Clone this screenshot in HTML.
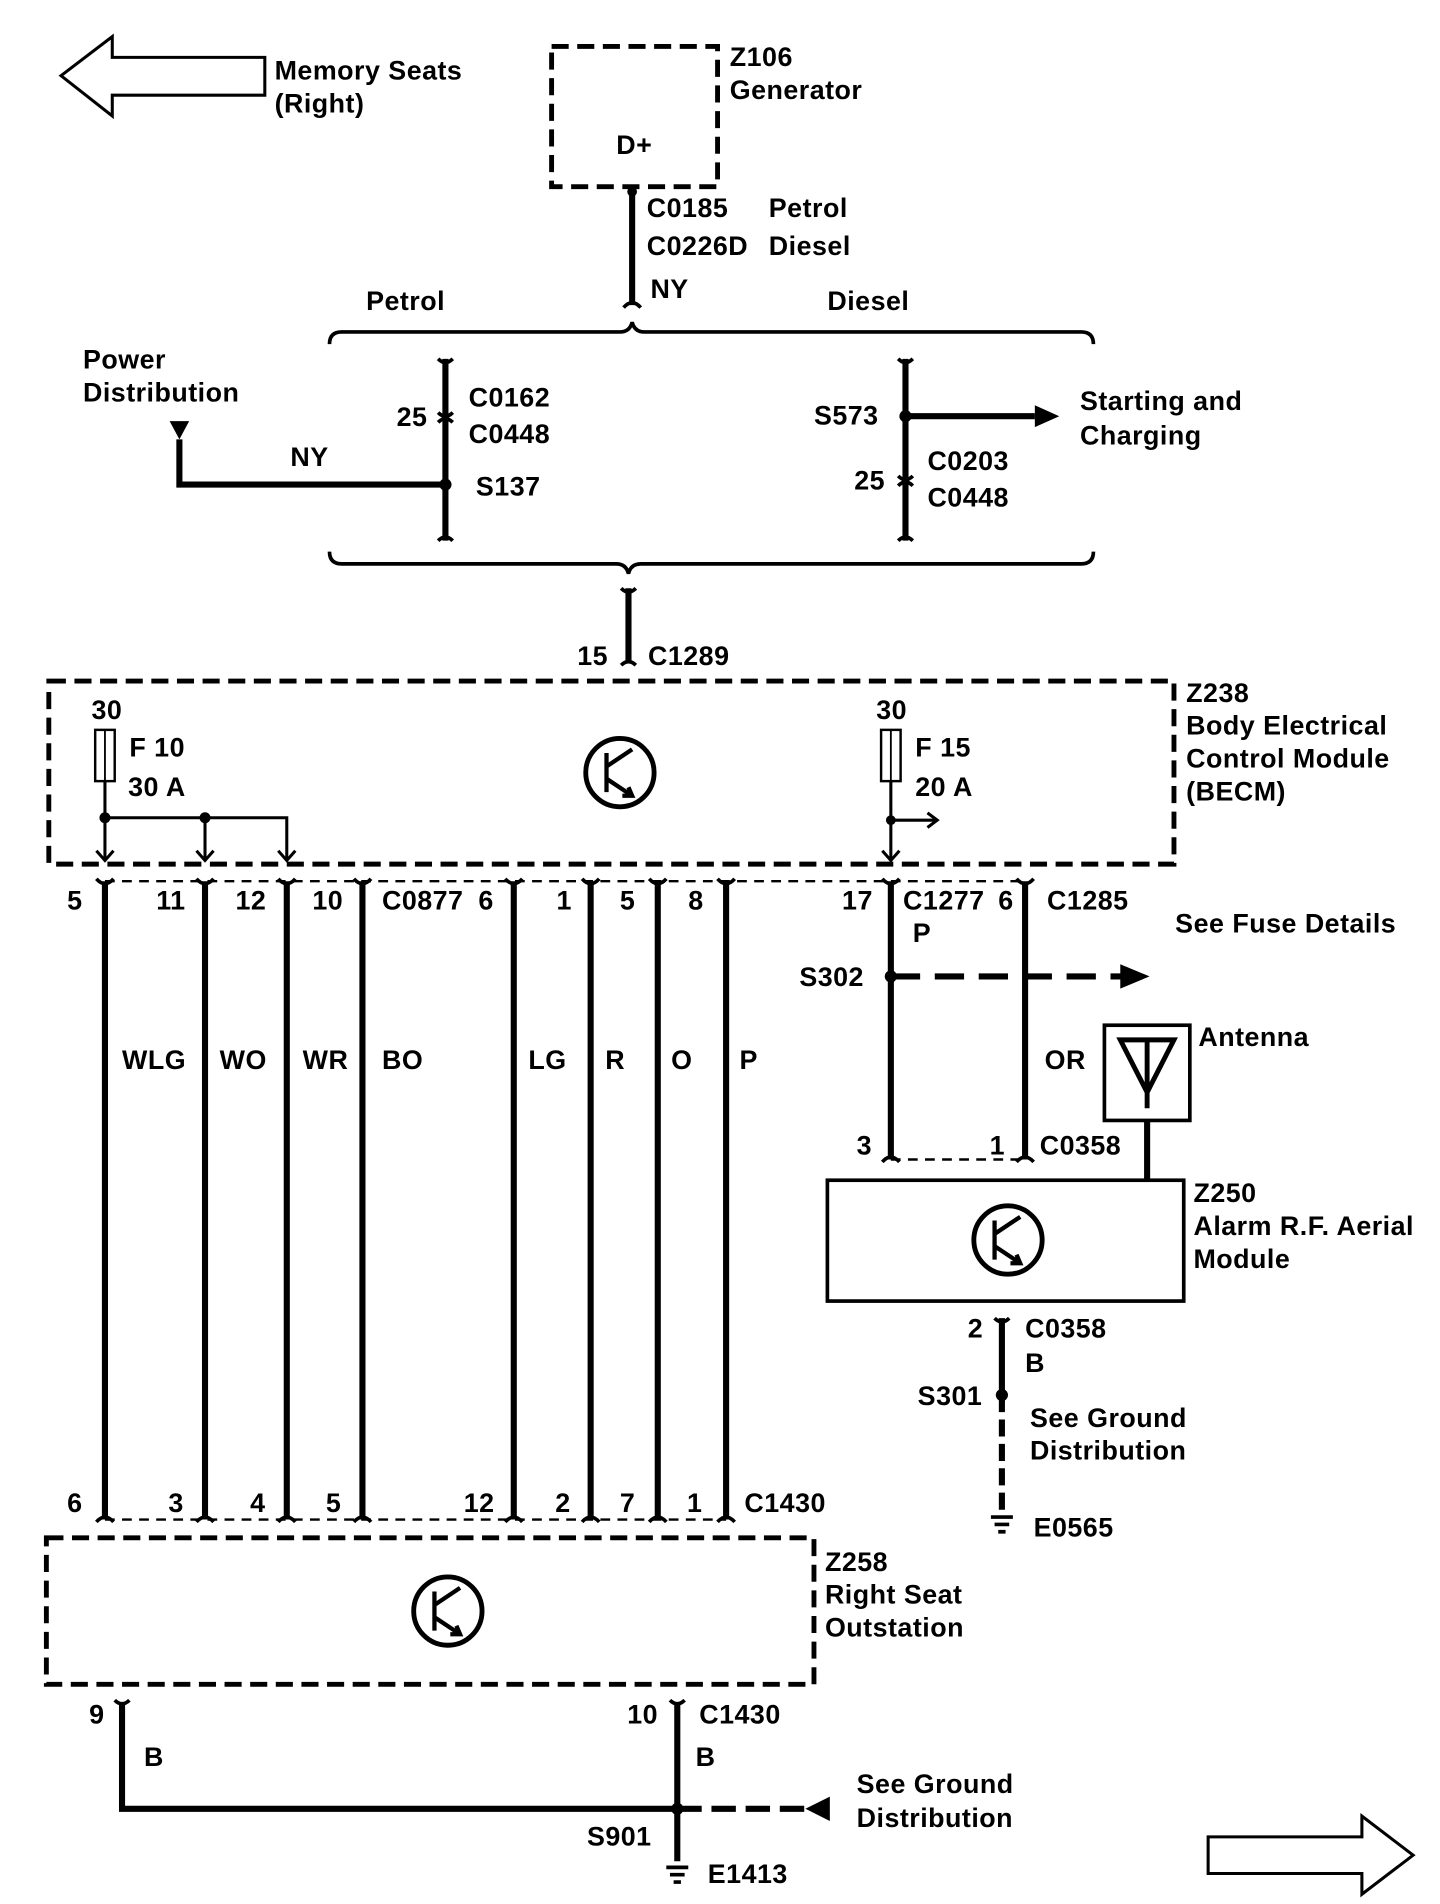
<!DOCTYPE html>
<html><head><style>html,body{margin:0;padding:0;background:#fff;}svg{display:block}
text{font-family:"Liberation Sans",Arial,sans-serif;font-weight:bold;font-size:22px;letter-spacing:0.4px;fill:#000}</style></head>
<body>
<svg width="1440" height="1904" viewBox="0 0 1180 1560" preserveAspectRatio="none" xmlns="http://www.w3.org/2000/svg">
<g fill="none" stroke="#000">
<path d="M50,62 L92,30 L92,47 L217,47 L217,78 L92,78 L92,95 Z" stroke-width="2.5"/>
<path d="M1158,1520 L1116,1488 L1116,1505 L990,1505 L990,1535 L1116,1535 L1116,1552 Z" stroke-width="2.5"/>
<rect x="452" y="38" width="136" height="115" stroke-width="4" stroke-dasharray="14,7"/>
<line x1="518" y1="157" x2="518" y2="250" stroke-width="5"/>
<path d="M511,252 Q518,244 525,252" stroke-width="3"/>
<path d="M270,282 Q270,272 280,272 L508,272 Q516,272 518,264 Q520,272 528,272 L886,272 Q896,272 896,282" stroke-width="3"/>
<path d="M270,452 Q270,462 280,462 L505,462 Q513,462 515,470 Q517,462 525,462 L886,462 Q896,462 896,452" stroke-width="3"/>
<line x1="365" y1="294" x2="365" y2="443" stroke-width="5"/>
<path d="M359,294 Q365,300 371,294 M359,443 Q365,437 371,443" stroke-width="3"/>
<path d="M359,338 Q365,344 371,338 M359,346 Q365,340 371,346" stroke-width="3"/>
<path d="M147,360 L147,397 L365,397" stroke-width="5"/>
<line x1="742" y1="294" x2="742" y2="443" stroke-width="5"/>
<path d="M736,294 Q742,300 748,294 M736,443 Q742,437 748,443" stroke-width="3"/>
<path d="M736,390 Q742,396 748,390 M736,398 Q742,392 748,398" stroke-width="3"/>
<line x1="742" y1="341" x2="848" y2="341" stroke-width="5"/>
<line x1="515" y1="482" x2="515" y2="543" stroke-width="5"/>
<path d="M509,482 Q515,488 521,482 M509,545 Q515,539 521,545" stroke-width="3"/>
<rect x="40" y="558" width="922" height="150" stroke-width="4" stroke-dasharray="14,7"/>
<circle cx="508" cy="633" r="28" stroke-width="4"/>
<path d="M497,617 L497,649 M497,628 L518,614 M497,638 L518,652 M510,652 L518,652 L515,645" stroke-width="3.5"/>
<rect x="78" y="598" width="16" height="42" stroke-width="2"/>
<line x1="86" y1="598" x2="86" y2="640" stroke-width="1.5"/>
<path d="M86,640 L86,705 M86,670 L235,670 L235,705 M168,670 L168,705" stroke-width="2.5"/>
<path d="M79,697 L86,705 L93,697 M161,697 L168,705 L175,697 M228,697 L235,705 L242,697" stroke-width="2.5"/>
<rect x="722" y="598" width="16" height="42" stroke-width="2"/>
<line x1="730" y1="598" x2="730" y2="640" stroke-width="1.5"/>
<path d="M730,640 L730,705 M730,672 L768,672 M760,666 L768,672 L760,678 M723,697 L730,705 L737,697" stroke-width="2.5"/>
<line x1="86" y1="722" x2="840" y2="722" stroke-width="2" stroke-dasharray="8,6"/>
<g stroke-width="5">
<line x1="86" y1="722" x2="86" y2="1245"/><line x1="168" y1="722" x2="168" y2="1245"/>
<line x1="235" y1="722" x2="235" y2="1245"/><line x1="297" y1="722" x2="297" y2="1245"/>
<line x1="421" y1="722" x2="421" y2="1245"/><line x1="484" y1="722" x2="484" y2="1245"/>
<line x1="539" y1="722" x2="539" y2="1245"/><line x1="595" y1="722" x2="595" y2="1245"/>
<line x1="730" y1="722" x2="730" y2="950"/><line x1="840" y1="722" x2="840" y2="950"/>
</g>
<g stroke-width="3">
<path d="M79,720 Q86,728 93,720 M161,720 Q168,728 175,720 M228,720 Q235,728 242,720 M290,720 Q297,728 304,720 M414,720 Q421,728 428,720 M477,720 Q484,728 491,720 M532,720 Q539,728 546,720 M588,720 Q595,728 602,720 M723,720 Q730,728 737,720 M833,720 Q840,728 847,720"/>
<path d="M79,1247 Q86,1239 93,1247 M161,1247 Q168,1239 175,1247 M228,1247 Q235,1239 242,1247 M290,1247 Q297,1239 304,1247 M414,1247 Q421,1239 428,1247 M477,1247 Q484,1239 491,1247 M532,1247 Q539,1239 546,1247 M588,1247 Q595,1239 602,1247 M723,952 Q730,944 737,952 M833,952 Q840,944 847,952"/>
</g>
<line x1="86" y1="1245" x2="595" y2="1245" stroke-width="2" stroke-dasharray="8,6"/>
<line x1="730" y1="950" x2="840" y2="950" stroke-width="2" stroke-dasharray="8,6"/>
<line x1="730" y1="800" x2="922" y2="800" stroke-width="5" stroke-dasharray="24,12"/>
<rect x="905" y="840" width="70" height="78" stroke-width="3"/>
<path d="M918,852 L962,852 L940,895 Z M940,852 L940,908" stroke-width="4"/>
<line x1="940" y1="918" x2="940" y2="967" stroke-width="5"/>
<rect x="678" y="967" width="292" height="99" stroke-width="3"/>
<circle cx="826" cy="1016" r="28" stroke-width="4"/>
<path d="M815,1000 L815,1032 M815,1011 L836,997 M815,1021 L836,1035 M828,1035 L836,1035 L833,1028" stroke-width="3.5"/>
<line x1="821" y1="1080" x2="821" y2="1143" stroke-width="5"/>
<path d="M815,1080 Q821,1086 827,1080" stroke-width="3"/>
<line x1="821" y1="1143" x2="821" y2="1240" stroke-width="5" stroke-dasharray="14,6"/>
<path d="M812,1243 L830,1243 M815,1249 L827,1249 M818,1255 L824,1255" stroke-width="3"/>
<rect x="38" y="1260" width="629" height="120" stroke-width="4" stroke-dasharray="14,7"/>
<circle cx="367" cy="1320" r="28" stroke-width="4"/>
<path d="M356,1304 L356,1336 M356,1315 L377,1301 M356,1325 L377,1339 M369,1339 L377,1339 L374,1332" stroke-width="3.5"/>
<path d="M100,1395 L100,1482 L555,1482" stroke-width="5"/>
<line x1="555" y1="1395" x2="555" y2="1525" stroke-width="5"/>
<path d="M94,1393 Q100,1399 106,1393 M549,1393 Q555,1399 561,1393" stroke-width="3"/>
<line x1="555" y1="1482" x2="660" y2="1482" stroke-width="5" stroke-dasharray="20,8"/>
<path d="M546,1530 L564,1530 M549,1536 L561,1536 M552,1542 L558,1542" stroke-width="3"/>
</g>
<g fill="#000">
<circle cx="518" cy="157" r="4"/>
<path d="M139,345 L155,345 L147,360 Z"/>
<circle cx="365" cy="397" r="5"/>
<circle cx="742" cy="341" r="5"/>
<path d="M848,332 L868,341 L848,350 Z"/>
<circle cx="86" cy="670" r="4.5"/><circle cx="168" cy="670" r="4.5"/><circle cx="730" cy="672" r="4"/>
<circle cx="730" cy="800" r="5"/>
<path d="M918,790 L942,800 L918,810 Z"/>
<circle cx="821" cy="1143" r="5"/>
<circle cx="555" cy="1482" r="5"/>
<path d="M680,1472 L660,1482 L680,1492 Z"/>
</g>
<text x="225" y="65">Memory Seats</text><text x="225" y="92">(Right)</text>
<text x="505" y="126">D+</text>
<text x="598" y="54">Z106</text><text x="598" y="81">Generator</text>
<text x="530" y="178">C0185</text><text x="630" y="178">Petrol</text>
<text x="530" y="209">C0226D</text><text x="630" y="209">Diesel</text>
<text x="533" y="244">NY</text>
<text x="300" y="254">Petrol</text><text x="678" y="254">Diesel</text>
<text x="68" y="302">Power</text><text x="68" y="329">Distribution</text>
<text x="238" y="382">NY</text>
<text x="325" y="349">25</text><text x="384" y="333">C0162</text><text x="384" y="363">C0448</text>
<text x="390" y="406">S137</text>
<text x="667" y="348">S573</text>
<text x="885" y="336">Starting and</text><text x="885" y="364">Charging</text>
<text x="700" y="401">25</text><text x="760" y="385">C0203</text><text x="760" y="415">C0448</text>
<text x="473" y="545">15</text><text x="531" y="545">C1289</text>
<text x="972" y="575">Z238</text><text x="972" y="602">Body Electrical</text><text x="972" y="629">Control Module</text><text x="972" y="656">(BECM)</text>
<text x="75" y="589">30</text><text x="106" y="620">F 10</text><text x="105" y="652">30 A</text>
<text x="718" y="589">30</text><text x="750" y="620">F 15</text><text x="750" y="652">20 A</text>
<text x="55" y="745">5</text><text x="128" y="745">11</text><text x="193" y="745">12</text><text x="256" y="745">10</text>
<text x="313" y="745">C0877</text><text x="392" y="745">6</text><text x="456" y="745">1</text><text x="508" y="745">5</text><text x="564" y="745">8</text>
<text x="690" y="745">17</text><text x="740" y="745">C1277</text><text x="748" y="772">P</text>
<text x="818" y="745">6</text><text x="858" y="745">C1285</text>
<text x="963" y="764">See Fuse Details</text>
<text x="655" y="808">S302</text>
<text x="100" y="876">WLG</text><text x="180" y="876">WO</text><text x="248" y="876">WR</text><text x="313" y="876">BO</text>
<text x="433" y="876">LG</text><text x="496" y="876">R</text><text x="550" y="876">O</text><text x="606" y="876">P</text>
<text x="856" y="876">OR</text>
<text x="982" y="857">Antenna</text>
<text x="702" y="946">3</text><text x="811" y="946">1</text><text x="852" y="946">C0358</text>
<text x="978" y="985">Z250</text><text x="978" y="1012">Alarm R.F. Aerial</text><text x="978" y="1039">Module</text>
<text x="793" y="1096">2</text><text x="840" y="1096">C0358</text><text x="840" y="1124">B</text>
<text x="752" y="1151">S301</text>
<text x="844" y="1169">See Ground</text><text x="844" y="1196">Distribution</text>
<text x="847" y="1259">E0565</text>
<text x="55" y="1239">6</text><text x="138" y="1239">3</text><text x="205" y="1239">4</text><text x="267" y="1239">5</text>
<text x="380" y="1239">12</text><text x="455" y="1239">2</text><text x="508" y="1239">7</text><text x="563" y="1239">1</text><text x="610" y="1239">C1430</text>
<text x="676" y="1287">Z258</text><text x="676" y="1314">Right Seat</text><text x="676" y="1341">Outstation</text>
<text x="73" y="1412">9</text><text x="118" y="1447">B</text>
<text x="514" y="1412">10</text><text x="573" y="1412">C1430</text><text x="570" y="1447">B</text>
<text x="702" y="1469">See Ground</text><text x="702" y="1497">Distribution</text>
<text x="481" y="1512">S901</text><text x="580" y="1543">E1413</text>
</svg>
</body></html>
